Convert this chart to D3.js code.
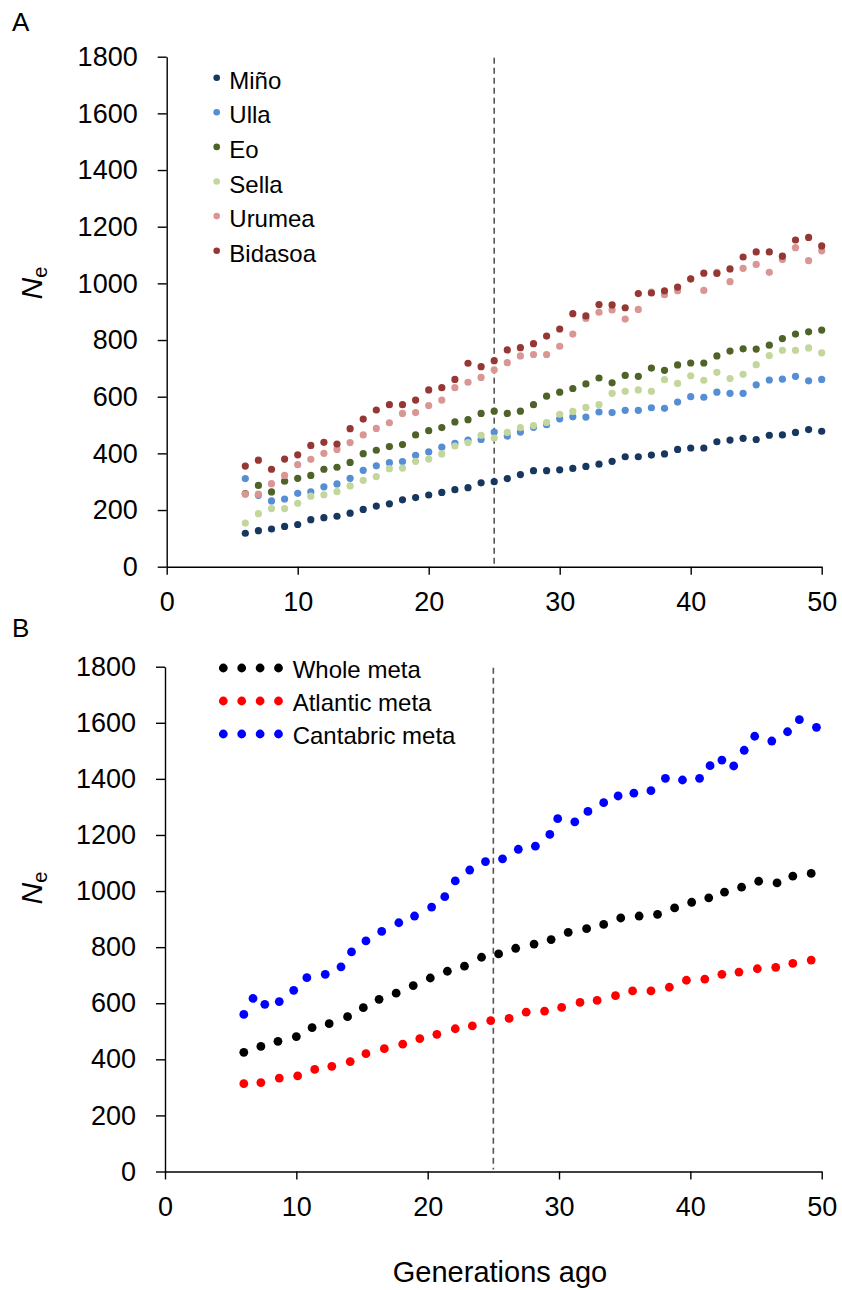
<!DOCTYPE html>
<html>
<head>
<meta charset="utf-8">
<script src="https://cdn.jsdelivr.net/npm/d3@7"></script>
<style>
  body { margin: 0; background: #fff; }
  svg { display: block; font-family: Arial, "Liberation Sans", sans-serif; }
</style>
</head>
<body>
<div id="chart"></div>
<script>
// ================================================
// 1. DATA
// ================================================
// Panel A: Ne per river, generations 6..50
const generationsA = [6, 7, 8, 9, 10, 11, 12, 13, 14, 15, 16, 17, 18, 19, 20,
  21, 22, 23, 24, 25, 26, 27, 28, 29, 30, 31, 32, 33, 34, 35, 36, 37, 38, 39, 40,
  41, 42, 43, 44, 45, 46, 47, 48, 49, 50];

const minoNe = [118, 127, 133, 142, 149, 166, 173, 178, 189, 202, 214, 222, 236, 244, 253,
  262, 272, 279, 296, 300, 311, 325, 339, 339, 342, 347, 354, 362, 372, 388,
  388, 394, 398, 414, 419, 419, 441, 447, 453, 449, 464, 465, 474, 484, 478];
const ullaNe = [311, 252, 232, 239, 259, 264, 282, 292, 312, 340, 356, 367, 371, 393, 405,
  422, 435, 447, 449, 475, 461, 475, 492, 501, 522, 529, 528, 546, 544, 552,
  552, 561, 559, 581, 600, 598, 616, 612, 612, 642, 659, 662, 672, 656, 661];
const eoNe = [258, 287, 264, 302, 312, 322, 344, 351, 368, 399, 411, 424, 431, 465, 480,
  491, 511, 519, 541, 549, 541, 549, 572, 602, 616, 629, 645, 666, 649, 675,
  672, 701, 693, 712, 719, 719, 744, 761, 769, 768, 782, 805, 821, 829, 835];
const sellaNe = [154, 187, 205, 205, 224, 249, 254, 265, 285, 305, 318, 346, 348, 372, 380,
  398, 426, 438, 464, 454, 474, 491, 498, 509, 538, 548, 562, 572, 612, 619,
  624, 619, 660, 647, 674, 658, 686, 664, 679, 713, 745, 764, 764, 772, 755];
const urumeaNe = [256, 256, 293, 322, 360, 379, 400, 414, 438, 465, 488, 508, 541, 544, 569,
  588, 632, 651, 668, 695, 720, 744, 749, 749, 778, 821, 876, 898, 906, 874,
  908, 969, 960, 974, 1015, 975, 1039, 1006, 1053, 1067, 1039, 1084, 1126, 1080, 1115];
const bidasoaNe = [355, 376, 344, 380, 395, 428, 439, 433, 487, 521, 553, 572, 572, 588, 624,
  632, 661, 718, 706, 727, 765, 773, 787, 814, 839, 893, 885, 925, 924, 914,
  964, 966, 974, 987, 1016, 1036, 1035, 1051, 1093, 1111, 1111, 1096, 1153, 1162, 1132];

const riverNames = ["Miño", "Ulla", "Eo", "Sella", "Urumea", "Bidasoa"];
const riverValues = [minoNe, ullaNe, eoNe, sellaNe, urumeaNe, bidasoaNe];

// Panel B: metapopulations (x positions)
const wholeGen = [6.0, 7.3, 8.6, 10.0, 11.2, 12.5, 13.9, 15.1, 16.3, 17.6, 18.9, 20.2, 21.5, 22.8, 24.1,
  25.4, 26.7, 28.1, 29.4, 30.7, 32.1, 33.4, 34.7, 36.1, 37.5, 38.8, 40.1, 41.4, 42.6, 43.9,
  45.2, 46.6, 47.8, 49.2];
const wholeNe = [425, 446, 464, 481, 513, 527, 552, 584, 614, 636, 663, 690, 714, 732, 764,
  776, 796, 811, 827, 853, 866, 881, 904, 911, 917, 940, 960, 976, 996, 1014,
  1035, 1029, 1053, 1063];

const atlanticGen = [6.0, 7.3, 8.7, 10.1, 11.4, 12.7, 14.1, 15.3, 16.7, 18.1, 19.4, 20.7, 22.1, 23.4, 24.8,
  26.2, 27.5, 28.9, 30.2, 31.6, 32.9, 34.3, 35.6, 37.0, 38.4, 39.7, 41.1, 42.4, 43.7, 45.1,
  46.5, 47.8, 49.2];
const atlanticNe = [313, 317, 333, 341, 364, 375, 392, 420, 438, 454, 474, 489, 509, 519, 538,
  546, 568, 572, 585, 603, 610, 627, 644, 644, 657, 682, 686, 703, 711, 723,
  728, 742, 754];

const cantabricGen = [6.0, 6.7, 7.6, 8.7, 9.8, 10.8, 12.2, 13.4, 14.2, 15.3, 16.5, 17.8, 19.0, 20.3, 21.3,
  22.1, 23.2, 24.4, 25.7, 26.9, 28.2, 29.3, 29.9, 31.2, 32.2, 33.4, 34.5, 35.7, 37.0, 38.1,
  39.4, 40.7, 41.5, 42.4, 43.3, 44.1, 44.9, 46.2, 47.4, 48.3, 49.6];
const cantabricNe = [560, 617, 596, 606, 646, 691, 703, 730, 783, 822, 856, 887, 911, 943, 980,
  1036, 1075, 1105, 1115, 1149, 1160, 1202, 1258, 1247, 1284, 1315, 1339, 1349, 1358, 1402,
  1396, 1402, 1447, 1467, 1446, 1502, 1552, 1535, 1568, 1611, 1584];

const metaNames = ["Whole meta", "Atlantic meta", "Cantabric meta"];
const metaGens = [wholeGen, atlanticGen, cantabricGen];
const metaValues = [wholeNe, atlanticNe, cantabricNe];

// Axes
const xTicks = [0, 10, 20, 30, 40, 50];
const yTicks = [0, 200, 400, 600, 800, 1000, 1200, 1400, 1600, 1800];
const cutoffGeneration = 25;

// ================================================
// 2. STYLE
// ================================================
const riverColors = ["#17375E", "#558ED5", "#4F6228", "#C3D69B", "#D99694", "#953735"];
const metaColors = ["#000000", "#FF0000", "#0000FF"];

(function () {
  const svg = d3.select("#chart")
    .append("svg")
    .attr("width", 842)
    .attr("height", 1290);

  // Panel frames (pixel box of each plot area)
  const panelA = { label: "A", x0: 166.7, x1: 821.7, y0: 566.7, y1: 56.7, labelY: 31, neY: 283 };
  const panelB = { label: "B", x0: 165, x1: 821.7, y0: 1171.5, y1: 666.7, labelY: 637, neY: 888 };

  function drawFrame(p) {
    const x = d3.scaleLinear().domain([0, 50]).range([p.x0, p.x1]);
    const y = d3.scaleLinear().domain([0, 1800]).range([p.y0, p.y1]);

    // cutoff line
    svg.append("line")
      .attr("x1", x(cutoffGeneration))
      .attr("x2", x(cutoffGeneration))
      .attr("y1", y(1800) + 1)
      .attr("y2", y(0) - 2)
      .attr("stroke", "#555")
      .attr("stroke-width", 1.6)
      .attr("stroke-dasharray", "6,4");

    const gx = svg.append("g")
      .attr("transform", `translate(0,${p.y0})`)
      .call(d3.axisBottom(x).tickValues(xTicks).tickFormat(d3.format("d"))
        .tickSize(8).tickPadding(17).tickSizeOuter(0));

    const gy = svg.append("g")
      .attr("transform", `translate(${p.x0},0)`)
      .call(d3.axisLeft(y).tickValues(yTicks).tickFormat(d3.format("d"))
        .tickSize(9).tickPadding(20).tickSizeOuter(0));

    [gx, gy].forEach(g => {
      g.attr("font-family", null).attr("font-size", null);
      g.selectAll("path, line").attr("stroke", "#000").attr("stroke-width", 1.4);
      g.selectAll("text").attr("fill", "#000").style("font-size", "27px");
    });

    // Ne label
    const ne = svg.append("text")
      .attr("transform", `translate(42,${p.neY}) rotate(-90)`)
      .attr("text-anchor", "middle")
      .attr("fill", "#000");
    ne.append("tspan").style("font-size", "30px").style("font-style", "italic").text("N");
    ne.append("tspan").style("font-size", "20px").attr("dy", 5).text("e");

    // panel letter
    svg.append("text")
      .attr("x", 12)
      .attr("y", p.labelY)
      .style("font-size", "26px")
      .attr("fill", "#000")
      .text(p.label);

    return { x, y };
  }

  // ================================================
  // 3. PANEL A
  // ================================================
  const a = drawFrame(panelA);

  riverNames.forEach((name, i) => {
    svg.append("g")
      .selectAll("circle")
      .data(generationsA.map((g, k) => ({ g, v: riverValues[i][k] })))
      .join("circle")
      .attr("cx", d => a.x(d.g))
      .attr("cy", d => a.y(d.v))
      .attr("r", 3.6)
      .attr("fill", riverColors[i]);
  });

  const legA = svg.append("g");
  riverNames.forEach((name, i) => {
    const ry = 77.7 + i * 34.6;
    legA.append("circle").attr("cx", 216.7).attr("cy", ry).attr("r", 3.3).attr("fill", riverColors[i]);
    legA.append("text").attr("x", 229.3).attr("y", ry + 11)
      .style("font-size", "24px").attr("fill", "#000").text(name);
  });

  // ================================================
  // 4. PANEL B
  // ================================================
  const b = drawFrame(panelB);

  metaNames.forEach((name, i) => {
    svg.append("g")
      .selectAll("circle")
      .data(metaGens[i].map((g, k) => ({ g, v: metaValues[i][k] })))
      .join("circle")
      .attr("cx", d => b.x(d.g))
      .attr("cy", d => b.y(d.v))
      .attr("r", 4.4)
      .attr("fill", metaColors[i]);
  });

  const legB = svg.append("g");
  metaNames.forEach((name, i) => {
    const ry = 668 + i * 33;
    [0, 1, 2, 3].forEach(k => {
      legB.append("circle").attr("cx", 223.3 + k * 18.4).attr("cy", ry).attr("r", 4.4).attr("fill", metaColors[i]);
    });
    legB.append("text").attr("x", 292.7).attr("y", ry + 10)
      .style("font-size", "24px").attr("fill", "#000").text(name);
  });

  // x axis title (shared)
  svg.append("text")
    .attr("x", 500)
    .attr("y", 1282)
    .attr("text-anchor", "middle")
    .style("font-size", "29px")
    .attr("fill", "#000")
    .text("Generations ago");
})();
</script>
</body>
</html>
